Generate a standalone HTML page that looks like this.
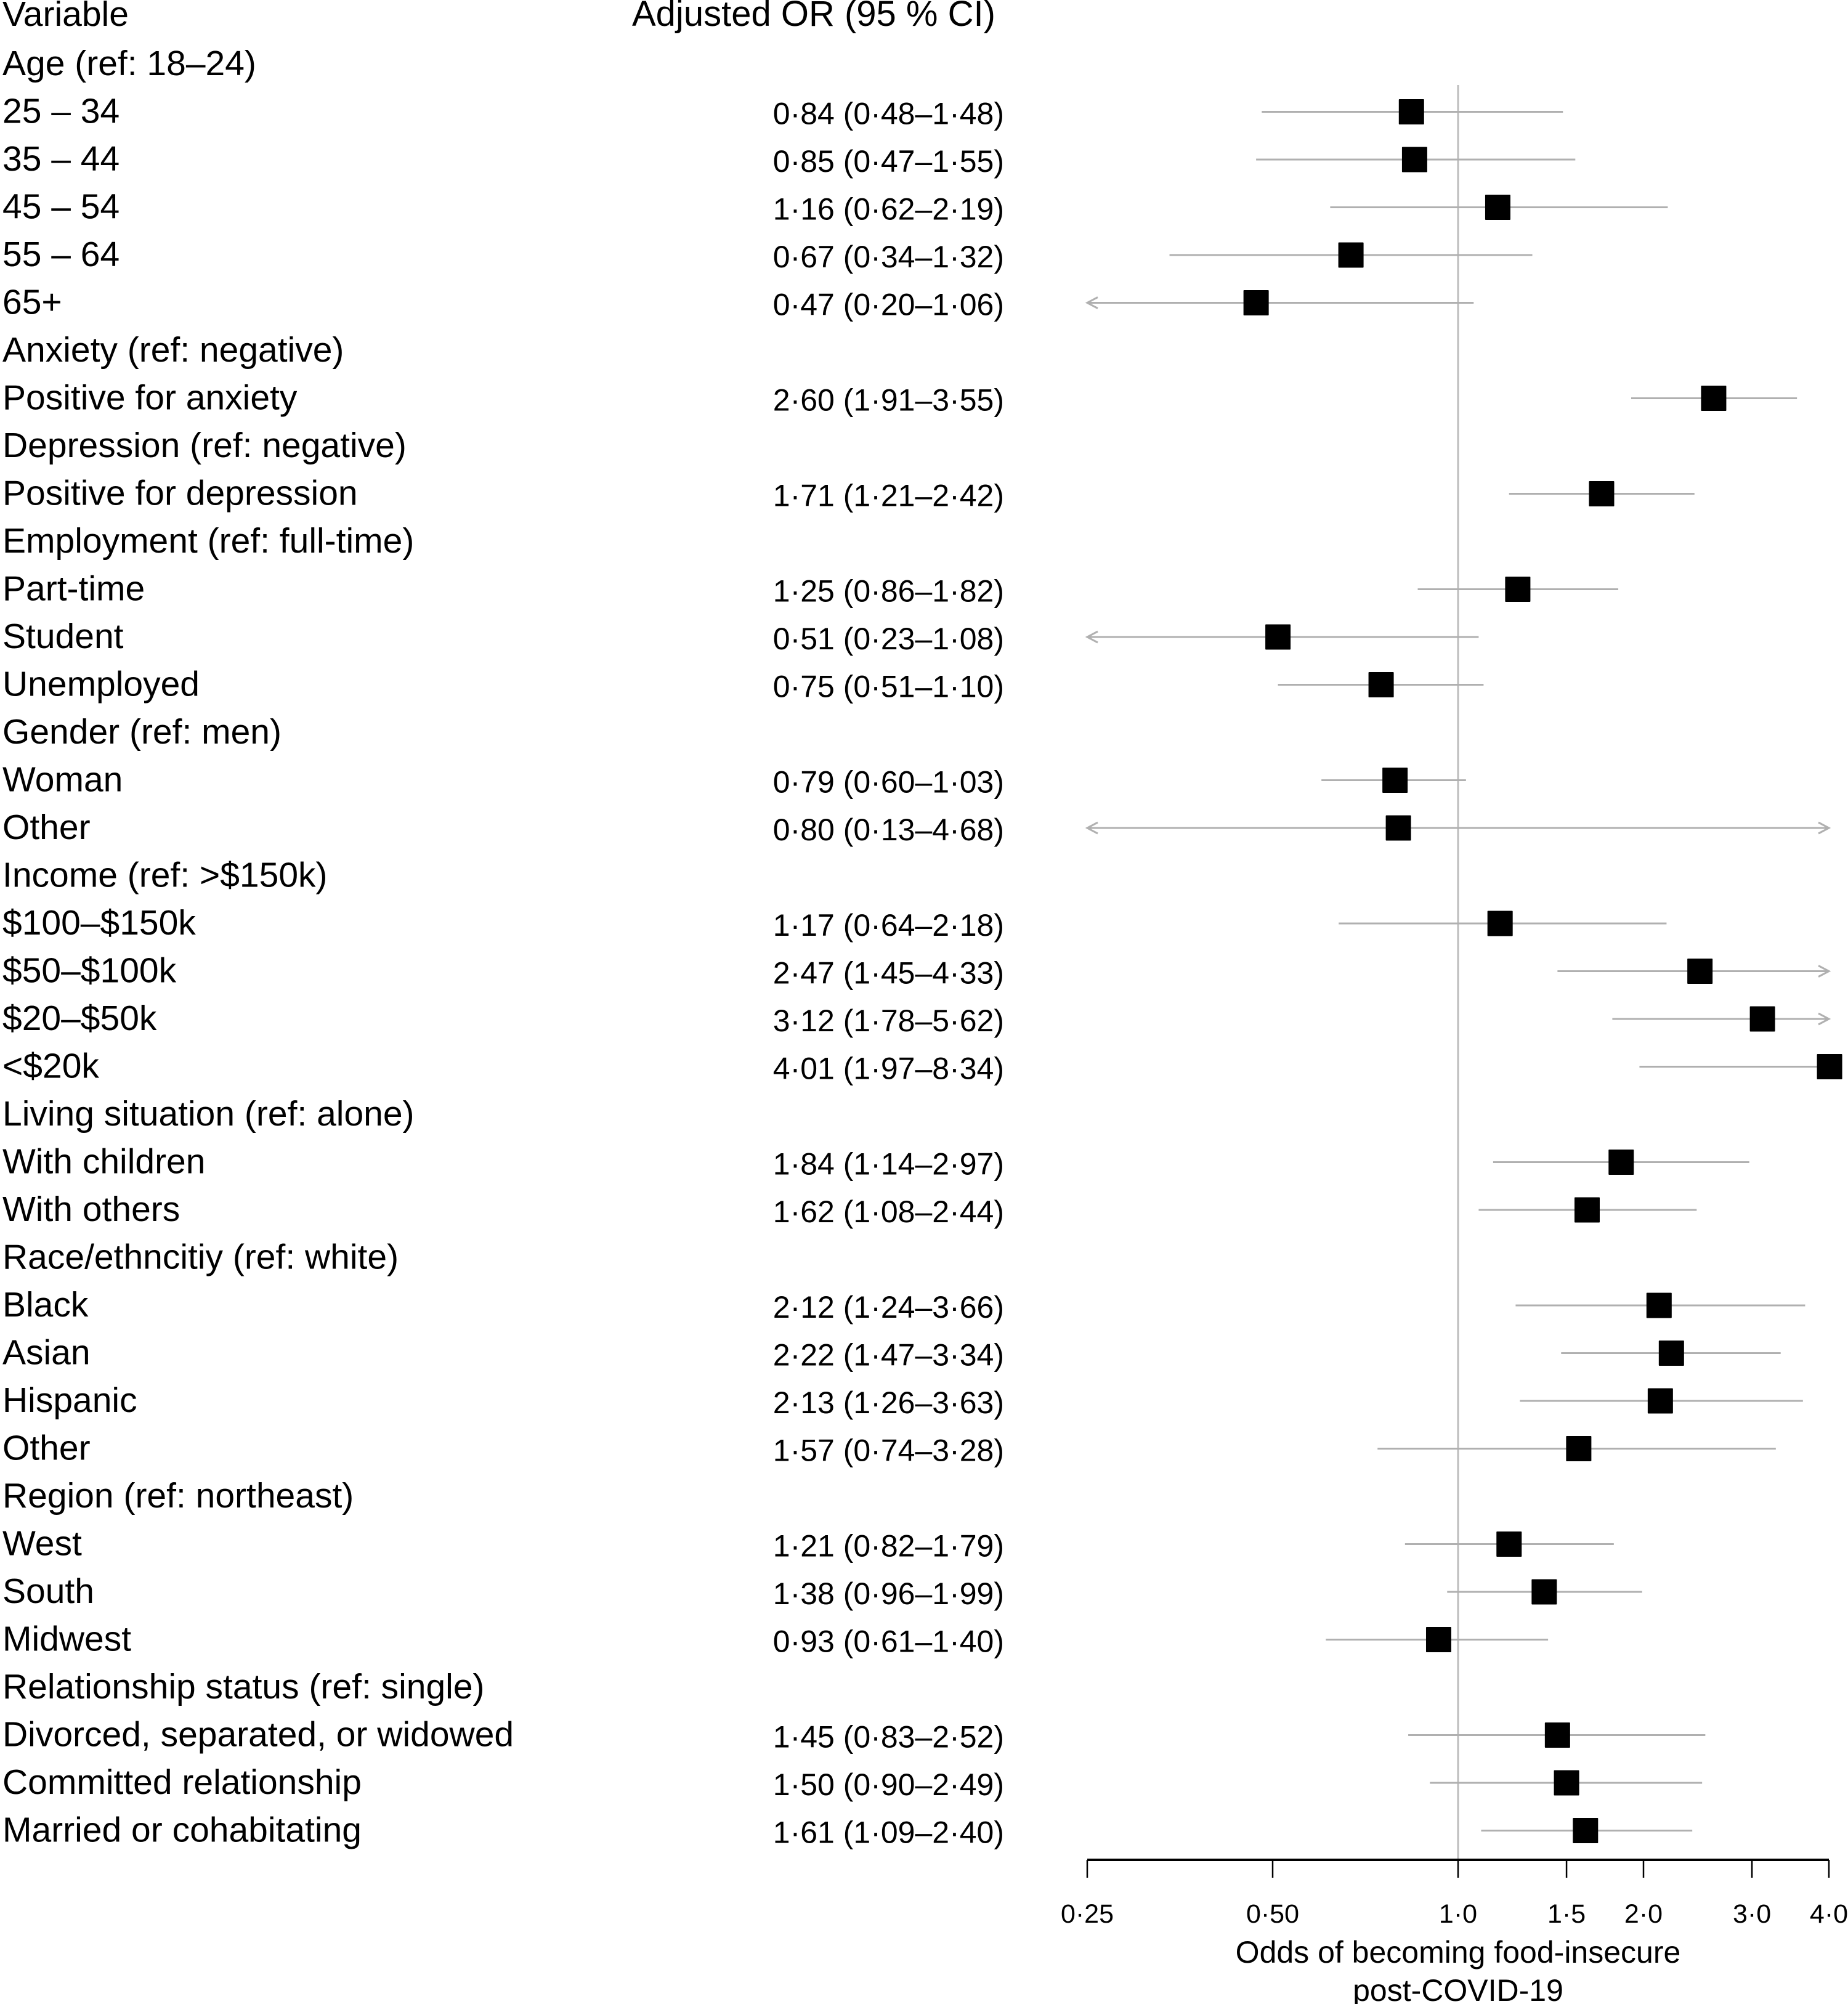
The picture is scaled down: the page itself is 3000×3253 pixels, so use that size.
<!DOCTYPE html>
<html><head><meta charset="utf-8">
<style>
html,body{margin:0;padding:0;background:#fff;}
svg{display:block;}
text{font-family:"Liberation Sans",sans-serif;fill:#000;}
</style></head>
<body>
<svg id="chart" width="3000" height="3253" viewBox="0 0 3000 3253" xmlns="http://www.w3.org/2000/svg">
<text x="4" y="42" font-size="57">Variable</text>
<text x="1026" y="42" font-size="58">Adjusted OR (95 % CI)</text>
<g id="rows"></g>
<g id="marks"></g>
<g id="axis"></g>
</svg>
<script>
const labels = ["Age (ref: 18–24)","25 – 34","35 – 44","45 – 54","55 – 64","65+","Anxiety (ref: negative)","Positive for anxiety","Depression (ref: negative)","Positive for depression","Employment (ref: full-time)","Part-time","Student","Unemployed","Gender (ref: men)","Woman","Other","Income (ref: >$150k)","$100–$150k","$50–$100k","$20–$50k","<$20k","Living situation (ref: alone)","With children","With others","Race/ethncitiy (ref: white)","Black","Asian","Hispanic","Other","Region (ref: northeast)","West","South","Midwest","Relationship status (ref: single)","Divorced, separated, or widowed","Committed relationship","Married or cohabitating"];
const estimates = [null,0.84,0.85,1.16,0.67,0.47,null,2.60,null,1.71,null,1.25,0.51,0.75,null,0.79,0.80,null,1.17,2.47,3.12,4.01,null,1.84,1.62,null,2.12,2.22,2.13,1.57,null,1.21,1.38,0.93,null,1.45,1.50,1.61];
const lowers = [null,0.48,0.47,0.62,0.34,0.20,null,1.91,null,1.21,null,0.86,0.23,0.51,null,0.60,0.13,null,0.64,1.45,1.78,1.97,null,1.14,1.08,null,1.24,1.47,1.26,0.74,null,0.82,0.96,0.61,null,0.83,0.90,1.09];
const uppers = [null,1.48,1.55,2.19,1.32,1.06,null,3.55,null,2.42,null,1.82,1.08,1.10,null,1.03,4.68,null,2.18,4.33,5.62,8.34,null,2.97,2.44,null,3.66,3.34,3.63,3.28,null,1.79,1.99,1.40,null,2.52,2.49,2.40];
const tickValues = [0.25,0.5,1.0,1.5,2.0,3.0,4.0];
const tickLabels = ["0·25","0·50","1·0","1·5","2·0","3·0","4·0"];

const NS="http://www.w3.org/2000/svg";
const X0=1765, X1=2969, XMIN=0.25, XMAX=4.0;
function xs(v){return X0+(Math.log(v)-Math.log(XMIN))/(Math.log(XMAX)-Math.log(XMIN))*(X1-X0);}
function ys(i){return 102+i*77.5;}
function fmt(v){return v.toFixed(2).replace('.','·');}
function mk(tag,attrs,parent){const e=document.createElementNS(NS,tag);for(const k in attrs)e.setAttribute(k,attrs[k]);parent.appendChild(e);return e;}
const rows=document.getElementById('rows'), marks=document.getElementById('marks'), axis=document.getElementById('axis');

const ref=mk('line',{x1:xs(1),x2:xs(1),y1:138,y2:3019,stroke:'#bdbdbd','stroke-width':3},marks);



labels.forEach((lab,i)=>{
  const y=ys(i);
  const t=mk('text',{x:4,y:y+20,'font-size':57},rows);
  t.textContent=lab;
  
  
  if(estimates[i]!==null){
    const v=mk('text',{x:1630,y:y+22,'font-size':50,'text-anchor':'end'},rows);
    v.textContent=fmt(estimates[i])+' ('+fmt(lowers[i])+'–'+fmt(uppers[i])+')';
    
    
    const lo=Math.max(lowers[i],XMIN), hi=Math.min(uppers[i],XMAX);
    const cy=y+2;
    const l=mk('line',{x1:xs(lo),x2:xs(hi),y1:cy,y2:cy,stroke:'#b0b0b0','stroke-width':3},marks);
    
    
    if(lowers[i]<XMIN){
      const a=mk('polyline',{points:(xs(XMIN)+17)+','+(cy-9)+' '+xs(XMIN)+','+cy+' '+(xs(XMIN)+17)+','+(cy+9),fill:'none',stroke:'#b0b0b0','stroke-width':3},marks);
      
      
    }
    if(uppers[i]>XMAX){
      const a=mk('polyline',{points:(xs(XMAX)-17)+','+(cy-9)+' '+xs(XMAX)+','+cy+' '+(xs(XMAX)-17)+','+(cy+9),fill:'none',stroke:'#b0b0b0','stroke-width':3},marks);
      
      
    }
    const b=mk('rect',{x:xs(estimates[i])-20.5,y:cy-20.5,width:41,height:41,fill:'#000',rx:1},marks);
    
    
  }
});

const ax=mk('line',{x1:X0,x2:X1,y1:3019,y2:3019,stroke:'#000','stroke-width':4},axis);


tickValues.forEach((tv,k)=>{
  const tk=mk('line',{x1:xs(tv),x2:xs(tv),y1:3019,y2:3048,stroke:'#000','stroke-width':2.5},axis);
  
  
  const tl=mk('text',{x:xs(tv),y:3121,'font-size':43,'text-anchor':'middle'},axis);
  tl.textContent=tickLabels[k];
  
  
});
const t1=mk('text',{x:xs(1),y:3186,'font-size':50,'text-anchor':'middle'},axis);
t1.textContent='Odds of becoming food-insecure';


const t2=mk('text',{x:xs(1),y:3248,'font-size':50,'text-anchor':'middle'},axis);
t2.textContent='post-COVID-19';


</script>
</body></html>
